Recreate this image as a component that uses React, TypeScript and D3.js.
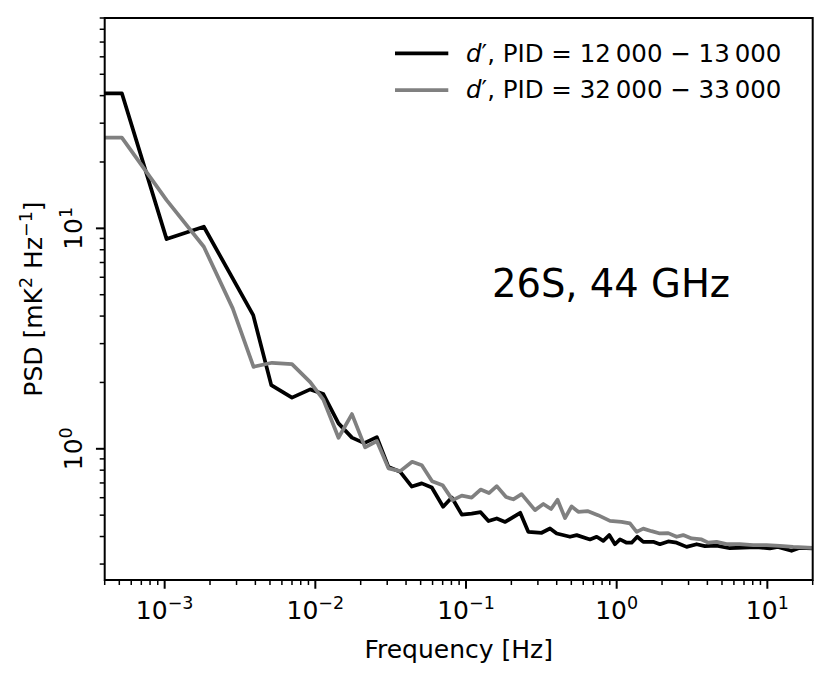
import React from 'react';
import * as d3 from 'd3';

// ---- data ----
const blackFreq = [4.0e-4, 5.2e-4, 1.03e-3, 1.82e-3, 3.87e-3, 5.1e-3, 7.0e-3, 9.25e-3, 0.0113, 0.01425, 0.0175, 0.0211, 0.0256, 0.0306, 0.0366, 0.0437, 0.0509, 0.0593, 0.0705, 0.0805, 0.0938, 0.109, 0.125, 0.141, 0.16, 0.182, 0.229, 0.259, 0.318, 0.361, 0.4, 0.49, 0.543, 0.665, 0.737, 0.815, 0.893, 0.974, 1.052, 1.165, 1.257, 1.37, 1.501, 1.748, 1.937, 2.199, 2.5, 2.912, 3.393, 3.851, 4.604, 5.64, 6.911, 8.48, 10.39, 11.74, 14.47, 16.43, 20];
const blackPsd = [41.0, 41.0, 8.94, 10.17, 4.04, 1.945, 1.707, 1.86, 1.771, 1.304, 1.124, 1.061, 1.13, 0.826, 0.786, 0.674, 0.697, 0.667, 0.546, 0.601, 0.503, 0.508, 0.516, 0.47, 0.483, 0.466, 0.5125, 0.42, 0.416, 0.435, 0.413, 0.399, 0.406, 0.388, 0.399, 0.382, 0.406, 0.369, 0.388, 0.375, 0.375, 0.399, 0.3785, 0.3785, 0.369, 0.38, 0.375, 0.359, 0.369, 0.362, 0.364, 0.354, 0.356, 0.358, 0.353, 0.359, 0.3445, 0.3555, 0.353];
const grayFreq = [4.0e-4, 5.2e-4, 1.03e-3, 1.82e-3, 2.83e-3, 3.89e-3, 5.16e-3, 7.0e-3, 9.25e-3, 0.0113, 0.01425, 0.0175, 0.0214, 0.0256, 0.0306, 0.0366, 0.0439, 0.0509, 0.0596, 0.0699, 0.0815, 0.0938, 0.109, 0.125, 0.142, 0.16, 0.1845, 0.206, 0.234, 0.287, 0.326, 0.367, 0.405, 0.454, 0.502, 0.556, 0.64, 0.752, 0.903, 1.076, 1.225, 1.357, 1.501, 1.706, 1.937, 2.199, 2.5, 2.764, 3.143, 3.662, 4.05, 4.604, 5.363, 6.571, 8.05, 9.878, 12.1, 14.83, 20];
const grayPsd = [25.8, 25.8, 13.44, 8.25, 4.335, 2.355, 2.456, 2.423, 2.007, 1.672, 1.122, 1.437, 1.015, 1.084, 0.815, 0.792, 0.873, 0.843, 0.713, 0.684, 0.585, 0.613, 0.601, 0.653, 0.63, 0.677, 0.604, 0.59, 0.623, 0.527, 0.562, 0.533, 0.587, 0.485, 0.548, 0.518, 0.522, 0.5, 0.471, 0.4665, 0.459, 0.42, 0.4345, 0.423, 0.413, 0.4145, 0.399, 0.406, 0.392, 0.388, 0.3753, 0.3785, 0.3694, 0.3694, 0.3656, 0.3656, 0.363, 0.359, 0.3555];

const xDomain = [4e-4, 20];
const yDomain = [0.254, 90];
const legendRanges = ['12\u2009000 \u2212 13\u2009000', '32\u2009000 \u2212 33\u2009000'];
const seriesColors = ['#000000', '#808080'];
const annotation = '26S, 44 GHz';
const xLabel = 'Frequency [Hz]';

// ---- layout ----
const W = 831;
const H = 680;
const L = 104.7;
const R = 812.7;
const T = 18;
const B = 580;
const FONT = "'DejaVu Sans', Verdana, sans-serif";
const FS = 25;

const expLabel = (e: number) => (e < 0 ? '\u2212' + Math.abs(e) : String(e));

export default function App() {
  const x = d3.scaleLog().domain(xDomain).range([L, R]);
  const y = d3.scaleLog().domain(yDomain).range([B, T]);
  const line = d3
    .line<[number, number]>()
    .x((d) => x(d[0]))
    .y((d) => y(d[1]));

  const isMajor = (v: number) => Math.abs(Math.log10(v) - Math.round(Math.log10(v))) < 1e-9;
  const xTicks = x.ticks().filter((v) => v >= xDomain[0] * 0.9999 && v <= xDomain[1] * 1.0001);
  const yTicks = y.ticks().filter((v) => v >= yDomain[0] * 0.9999 && v <= yDomain[1] * 1.0001);

  const blackData = blackFreq.map((f, i) => [f, blackPsd[i]] as [number, number]);
  const grayData = grayFreq.map((f, i) => [f, grayPsd[i]] as [number, number]);

  return (
    <svg
      width={W}
      height={H}
      style={{ position: 'absolute', left: 0, top: 0, background: '#fff' }}
      fontFamily={FONT}
    >
      <defs>
        <clipPath id="plotclip">
          <rect x={L} y={T} width={R - L} height={B - T} />
        </clipPath>
      </defs>
      <rect x={0} y={0} width={W} height={H} fill="#fff" />

      {/* series */}
      <g clipPath="url(#plotclip)" fill="none" strokeWidth={3.75} strokeLinejoin="round">
        <path d={line(blackData) || ''} stroke={seriesColors[0]} />
        <path d={line(grayData) || ''} stroke={seriesColors[1]} />
      </g>

      {/* x ticks */}
      <g stroke="#000">
        {xTicks.map((v, i) => {
          const major = isMajor(v);
          return (
            <line
              key={'xt' + i}
              x1={x(v)}
              x2={x(v)}
              y1={B}
              y2={B + (major ? 8.75 : 5)}
              strokeWidth={major ? 2 : 1.5}
            />
          );
        })}
        {yTicks.map((v, i) => {
          const major = isMajor(v);
          return (
            <line
              key={'yt' + i}
              y1={y(v)}
              y2={y(v)}
              x1={L}
              x2={L - (major ? 8.75 : 5)}
              strokeWidth={major ? 2 : 1.5}
            />
          );
        })}
      </g>

      {/* x tick labels */}
      <g fontSize={FS} fill="#000">
        {xTicks.filter(isMajor).map((v, i) => {
          const e = Math.round(Math.log10(v));
          return (
            <text key={'xl' + i} x={x(v)} y={619} textAnchor="middle">
              10
              <tspan fontSize={FS * 0.7} dy={-10}>
                {expLabel(e)}
              </tspan>
            </text>
          );
        })}
        {yTicks.filter(isMajor).map((v, i) => {
          const e = Math.round(Math.log10(v));
          return (
            <text
              key={'yl' + i}
              transform={`translate(82,${y(v)}) rotate(-90)`}
              textAnchor="middle"
            >
              10
              <tspan fontSize={FS * 0.7} dy={-10}>
                {expLabel(e)}
              </tspan>
            </text>
          );
        })}
      </g>

      {/* axis labels */}
      <text x={(L + R) / 2} y={658} textAnchor="middle" fontSize={FS}>
        {xLabel}
      </text>
      <text
        transform={`translate(41.5,${(T + B) / 2}) rotate(-90)`}
        textAnchor="middle"
        fontSize={FS}
      >
        PSD [mK
        <tspan fontSize={FS * 0.7} dy={-10}>2</tspan>
        <tspan dy={10}> Hz</tspan>
        <tspan fontSize={FS * 0.7} dy={-10}>{'\u22121'}</tspan>
        <tspan dy={10}>]</tspan>
      </text>

      {/* annotation */}
      <text x={611} y={297} textAnchor="middle" fontSize={38.5}>
        {annotation}
      </text>

      {/* legend */}
      {legendRanges.map((lab, i) => {
        const ly = i === 0 ? 53.3 : 90;
        return (
          <g key={'lg' + i}>
            <line x1={395} x2={448.3} y1={ly} y2={ly} stroke={seriesColors[i]} strokeWidth={3.75} />
            <text x={466} y={ly + 8.4} fontSize={24.5}>
              <tspan fontStyle="italic">d</tspan>
              <tspan>{'\u2032, PID = ' + lab}</tspan>
            </text>
          </g>
        );
      })}

      {/* frame */}
      <rect x={L} y={T} width={R - L} height={B - T} fill="none" stroke="#000" strokeWidth={2} />
    </svg>
  );
}
